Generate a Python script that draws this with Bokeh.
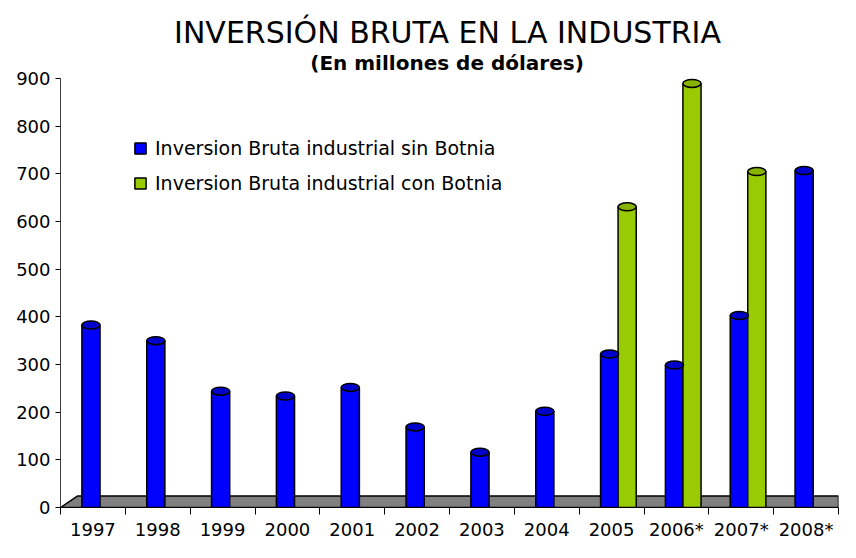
from bokeh.plotting import figure
from bokeh.models import (Label, FixedTicker, Legend, LegendItem, ColumnDataSource)
from bokeh.embed import file_html
from bokeh.resources import INLINE

categories = ["1997", "1998", "1999", "2000", "2001", "2002", "2003", "2004",
              "2005", "2006*", "2007*", "2008*"]
sin_botnia = [383, 350, 244, 234, 252, 169, 116, 202, 322, 299, 403, 707]
con_botnia = [None, None, None, None, None, None, None, None, 631, 890, 705, None]
y_ticks = [0, 100, 200, 300, 400, 500, 600, 700, 800, 900]
title_text = "INVERSIÓN BRUTA EN LA INDUSTRIA"
subtitle_text = "(En  millones de dólares)"

BLUE = "#0000FF"
BLUE_TOP = "#0000CC"
GREEN = "#99CC00"
GREEN_TOP = "#88B400"
BW = 0.28

n = len(categories)
bx = [i + 0.47 for i in range(n)]
gx = [i + 0.74 for i in range(n) if con_botnia[i] is not None]
gv = [v for v in con_botnia if v is not None]

# frame spans the full height; the axis is bounded to 0..900 and the
# headroom above holds the title texts
Y_END = 1064
p = figure(width=840, height=542, x_range=(0, n), y_range=(0, Y_END),
           output_backend="svg", toolbar_location=None,
           min_border_left=60, min_border_right=2, min_border_bottom=30,
           min_border_top=0)
p.outline_line_color = None
p.grid.visible = False

p.add_layout(Label(x=387, y=475, x_units="screen", y_units="screen",
                   text=title_text, text_align="center", text_baseline="middle",
                   text_font="DejaVu Sans", text_font_size="30px",
                   text_color="black"))
p.add_layout(Label(x=390, y=445, x_units="screen", y_units="screen",
                   text=subtitle_text, text_align="center", text_baseline="middle",
                   text_font="DejaVu Sans", text_font_size="20px",
                   text_font_style="bold", text_color="black"))

# floor
depth = 24
p.patch([0, 0.26, n, n], [0, depth, depth, 0], fill_color="#808080",
        line_color="black", line_width=1.5)

# bars
src_b = ColumnDataSource(dict(x=bx, top=sin_botnia))
src_g = ColumnDataSource(dict(x=gx, top=gv))
rb = p.vbar(x="x", top="top", bottom=0, width=BW, source=src_b,
            fill_color=BLUE, line_color="black", line_width=1.5)
rg = p.vbar(x="x", top="top", bottom=0, width=BW, source=src_g,
            fill_color=GREEN, line_color="black", line_width=1.5)
p.ellipse(x="x", y="top", width=BW, height=8, width_units="data",
          height_units="screen", source=src_b, fill_color=BLUE_TOP,
          line_color="black", line_width=1.5)
p.ellipse(x="x", y="top", width=BW, height=8, width_units="data",
          height_units="screen", source=src_g, fill_color=GREEN_TOP,
          line_color="black", line_width=1.5)

# y axis
p.yaxis.ticker = FixedTicker(ticks=y_ticks)
p.yaxis.bounds = (0, 900)
p.yaxis.axis_line_color = "#404040"
p.yaxis.major_tick_out = 5
p.yaxis.major_tick_in = 0
p.yaxis.minor_tick_line_color = None
p.yaxis.major_label_text_font = "DejaVu Sans"
p.yaxis.major_label_text_font_size = "18px"
p.yaxis.major_label_text_color = "black"

# x axis
p.xaxis.ticker = FixedTicker(ticks=[i + 0.5 for i in range(n)],
                             minor_ticks=list(range(n + 1)))
p.xaxis.major_label_overrides = {i + 0.5: c for i, c in enumerate(categories)}
p.xaxis.major_tick_line_color = None
p.xaxis.minor_tick_out = 7
p.xaxis.minor_tick_in = 0
p.xaxis.minor_tick_line_color = "black"
p.xaxis.axis_line_color = "black"
p.xaxis.major_label_standoff = 4
p.xaxis.major_label_text_font = "DejaVu Sans"
p.xaxis.major_label_text_font_size = "18px"
p.xaxis.major_label_text_color = "black"

legend = Legend(items=[
    LegendItem(label="Inversion Bruta industrial sin Botnia", renderers=[rb]),
    LegendItem(label="Inversion Bruta industrial con Botnia", renderers=[rg]),
], location=(73, 313), orientation="vertical")
legend.background_fill_alpha = 0
legend.border_line_color = None
legend.glyph_width = 14
legend.glyph_height = 14
legend.label_height = 22
legend.label_standoff = 8
legend.spacing = 13
legend.padding = 0
legend.label_text_font = "DejaVu Sans"
legend.label_text_font_size = "19px"
legend.label_text_color = "black"
p.add_layout(legend, "center")

open("out.html", "w").write(file_html(p, INLINE))
